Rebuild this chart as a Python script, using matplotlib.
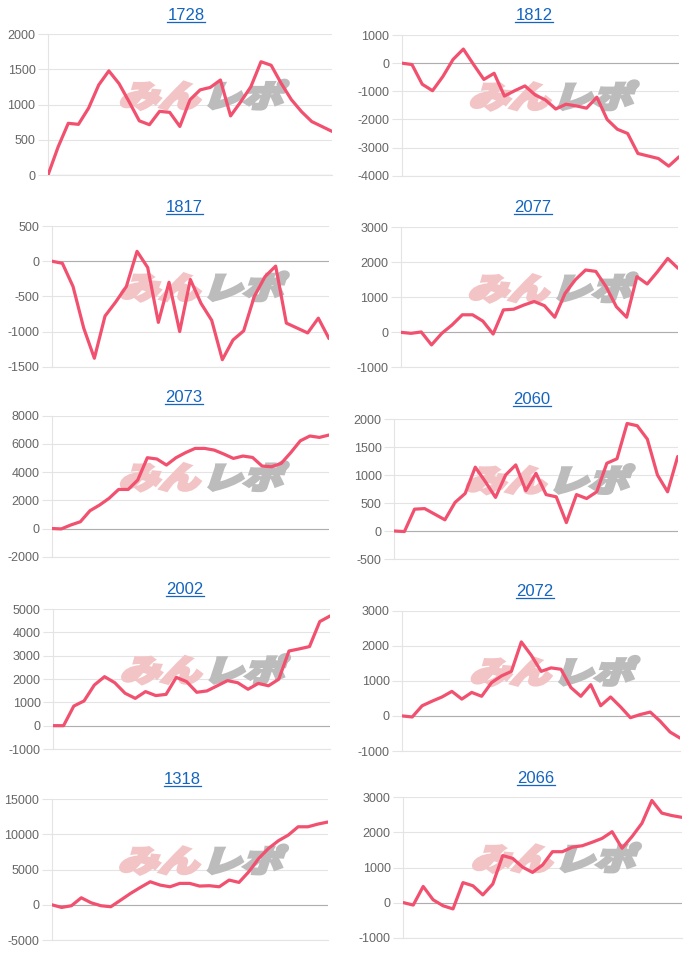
import matplotlib
matplotlib.use("Agg")
import matplotlib.pyplot as plt
import matplotlib.transforms as mtransforms
from matplotlib.textpath import TextPath
from matplotlib.patches import PathPatch
from matplotlib.font_manager import FontProperties
from matplotlib.lines import Line2D
import numpy as np

# ---------------- data ----------------
titles = ["1728", "1812", "1817", "2077", "2073", "2060", "2002", "2072", "1318", "2066"]

s1728 = [0, 400, 735, 720, 950, 1280, 1480, 1300, 1040, 770, 715, 905, 890, 690, 1070,
         1210, 1245, 1350, 840, 1040, 1255, 1610, 1560, 1300, 1070, 900, 760, 690, 620]
s1812 = [0, -50, -750, -980, -480, 130, 500, -50, -580, -360, -1170, -980, -810, -1130,
         -1310, -1630, -1460, -1520, -1600, -1210, -2000, -2350, -2500, -3210, -3300,
         -3390, -3660, -3330]
s1817 = [0, -30, -360, -950, -1380, -780, -580, -360, 140, -90, -870, -300, -1000, -260,
         -600, -840, -1400, -1120, -990, -500, -220, -70, -880, -950, -1020, -810, -1100]
s2077 = [0, -30, 10, -360, -30, 210, 500, 500, 320, -50, 640, 660, 780, 880, 760, 430,
         1110, 1500, 1780, 1740, 1300, 730, 430, 1590, 1380, 1730, 2110, 1830]
s2073 = [0, -30, 250, 480, 1260, 1660, 2140, 2770, 2770, 3440, 5020, 4930, 4500, 5020,
         5380, 5680, 5680, 5560, 5280, 4970, 5140, 5040, 4430, 4380, 4620, 5380, 6220,
         6560, 6460, 6630]
s2060 = [0, -10, 390, 400, 300, 200, 510, 670, 1140, 880, 600, 1000, 1180, 720, 1030,
         650, 610, 150, 650, 580, 700, 1210, 1290, 1920, 1880, 1640, 1000, 700, 1330]
s2002 = [0, 0, 840, 1060, 1740, 2100, 1840, 1390, 1170, 1460, 1290, 1340, 2070, 1890,
         1430, 1490, 1710, 1930, 1840, 1560, 1810, 1710, 1990, 3200, 3290, 3390, 4460, 4700]
s2072 = [0, -30, 290, 420, 540, 700, 480, 670, 560, 950, 1140, 1270, 2110, 1730, 1270,
         1370, 1330, 810, 560, 890, 290, 540, 260, -50, 40, 110, -150, -460, -630]
s1318 = [0, -380, -140, 990, 280, -140, -280, 660, 1610, 2460, 3260, 2790, 2550, 3030,
         3030, 2650, 2700, 2550, 3500, 3170, 4680, 6570, 7990, 9080, 9880, 11060, 11060,
         11440, 11730]
s2066 = [0, -70, 460, 80, -90, -180, 570, 480, 220, 530, 1340, 1260, 1010, 860, 1070,
         1450, 1450, 1580, 1620, 1720, 1830, 2020, 1550, 1880, 2260, 2910, 2550, 2480, 2430]

series = [s1728, s1812, s1817, s2077, s2073, s2060, s2002, s2072, s1318, s2066]

y_min = [0, -4000, -1500, -1000, -2000, -500, -1000, -1000, -5000, -1000]
y_max = [2000, 1000, 500, 3000, 8000, 2000, 5000, 3000, 15000, 3000]
y_step = [500, 1000, 500, 1000, 2000, 500, 1000, 1000, 5000, 1000]

watermark_pink = "みん"
watermark_gray = "レポ"

# ---------------- layout (pixels) ----------------
W, H = 700, 955
# left, right, top, bottom of each plot area
boxes = [
    (48, 332, 34.3, 175), (401.7, 679, 35, 175.7),
    (51.7, 329, 226, 366.7), (400.7, 678, 227.3, 367.3),
    (51.7, 329, 415.7, 556.7), (394.3, 677.7, 419, 559),
    (53.3, 330, 609, 749), (402.3, 680, 610.7, 751),
    (51.7, 327.7, 799, 940), (403.3, 681.7, 797.3, 937.7),
]
title_pos = [(186, 20), (534, 20), (184, 212), (533, 212), (184, 402),
             (532, 404), (185, 594), (535, 596), (182, 784), (536, 783)]

LINE = "#f2506f"
GRID = "#e4e4e4"
ZERO = "#aeaeae"
TICK = "#666666"
TITLE = "#1565c0"

fig = plt.figure(figsize=(W / 100, H / 100), dpi=100)
fig.patch.set_facecolor("white")

cjk = FontProperties(family="Noto Sans CJK JP", weight="black")


def add_watermark(ax):
    p1 = TextPath((0, 0), watermark_pink, size=31, prop=cjk)
    ext1 = p1.get_extents()
    p2 = TextPath((ext1.x1 + 3, 0), watermark_gray, size=31, prop=cjk)
    ext2 = p2.get_extents()
    x0, x1 = ext1.x0, ext2.x1
    y0 = min(ext1.y0, ext2.y0)
    y1 = max(ext1.y1, ext2.y1)
    cx, cy = (x0 + x1) / 2, (y0 + y1) / 2
    base = (mtransforms.Affine2D().translate(-cx, -cy).skew_deg(14, 0).scale(1.3, 0.98)
            .scale(1 / 100.0) + fig.dpi_scale_trans
            + mtransforms.ScaledTranslation(0.55, 0.57, ax.transAxes))
    for p, col in ((p1, "#f3c4c6"), (p2, "#bcbcbc")):
        patch = PathPatch(p, facecolor=col, edgecolor=col, lw=2.4, joinstyle="miter",
                          transform=base, zorder=1.5, clip_on=False)
        ax.add_artist(patch)


title_texts = []
for i in range(10):
    l, r, t, b = boxes[i]
    ax = fig.add_axes([l / W, 1 - b / H, (r - l) / W, (b - t) / H])
    vals = series[i]
    x = np.arange(len(vals))
    ax.plot(x, vals, color=LINE, lw=2.3, solid_joinstyle="round",
            solid_capstyle="round", zorder=3)
    ax.set_xlim(0, len(vals) - 1)
    ax.set_ylim(y_min[i], y_max[i])
    ticks = np.arange(y_min[i], y_max[i] + y_step[i] / 2, y_step[i])
    ax.set_yticks(ticks)
    ax.set_yticklabels([str(int(v)) for v in ticks])
    ax.set_xticks([])
    ax.grid(axis="y", color=GRID, lw=0.8, zorder=0)
    ax.set_axisbelow(True)
    ax.axhline(0, color=ZERO, lw=0.8, zorder=1)
    for s in ("top", "right"):
        ax.spines[s].set_visible(False)
    for s in ("left", "bottom"):
        ax.spines[s].set_color(GRID)
        ax.spines[s].set_linewidth(0.8)
    ax.tick_params(axis="y", length=7, width=0.8, color=GRID, pad=2,
                   labelsize=9, labelcolor=TICK)
    for lab in ax.get_yticklabels():
        lab.set_family("Liberation Sans")
    add_watermark(ax)

    tx, ty = title_pos[i]
    tt = fig.text(tx / W, 1 - ty / H, titles[i], ha="center", va="baseline",
                  fontsize=12, color=TITLE, family="Liberation Sans")
    title_texts.append((tt, ty))

fig.canvas.draw()
renderer = fig.canvas.get_renderer()
for tt, ty in title_texts:
    bb = tt.get_window_extent(renderer)
    yy = 1 - (ty + 2.2) / H
    fig.add_artist(Line2D([bb.x0 / W, bb.x1 / W], [yy, yy], color=TITLE, lw=0.9,
                          transform=fig.transFigure))

fig.savefig("out.png", dpi=100, facecolor="white")
